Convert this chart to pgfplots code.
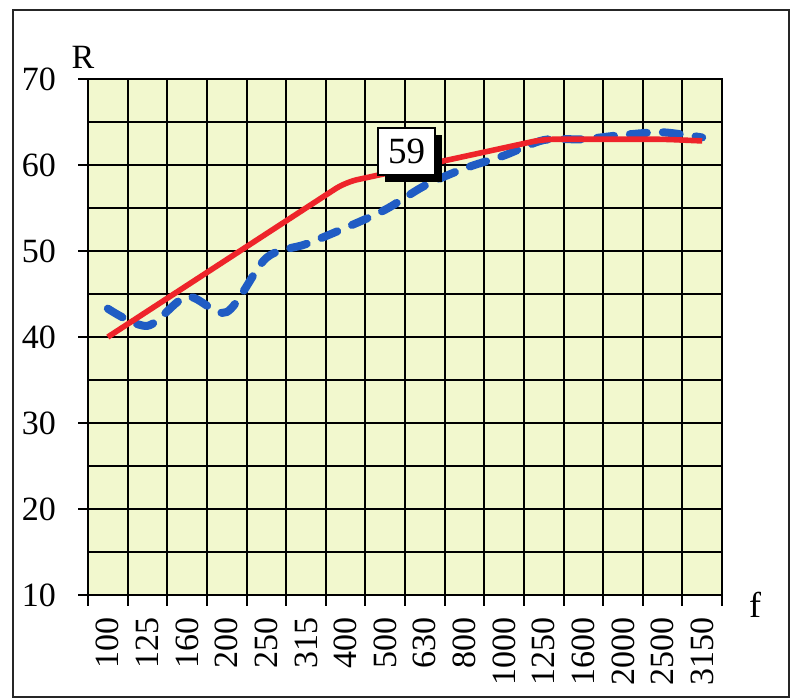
\documentclass[border=0pt]{standalone}
\usepackage{fontspec}
\setmainfont{Liberation Serif}
\usepackage{pgfplots}
\pgfplotsset{compat=1.18}
\usetikzlibrary{shadows}
\definecolor{bgyel}{RGB}{242,248,206}
\definecolor{curvered}{RGB}{238,36,42}
\definecolor{curveblue}{RGB}{32,92,196}

\begin{document}
\begin{tikzpicture}
% page box and scanned frame
\path (0,0) rectangle (395.5bp,-349bp);
\draw[line width=0.8bp, black!85] (6.5bp,-5bp) rectangle (394.5bp,-348.6bp);
\begin{axis}[
  at={(44bp,-297.5bp)}, anchor=south west,
  width=317bp, height=258bp, scale only axis,
  xmin=0, xmax=16, ymin=10, ymax=70,
  axis background/.style={fill=bgyel},
  clip=false,
  tick pos=left,
  xtick={0,1,...,16},
  xticklabels={},
  extra x ticks={0.5,1.5,...,15.5},
  extra x tick labels={100,125,160,200,250,315,400,500,630,800,1000,1250,1600,2000,2500,3150},
  extra x tick style={grid=none},
  ytick={10,20,...,70},
  minor ytick={15,25,...,65},
  grid=both,
  grid style={black, line width=1bp},
  minor grid style={black, line width=1bp},
  axis line style={black, line width=1.1bp},
  major tick length=0pt, minor tick length=0pt,
  /pgf/number format/assume math mode=true,
  yticklabel shift=12.5bp,
  xticklabel shift=7.5bp,
  yticklabel style={font=\fontsize{17bp}{20bp}\selectfont},
  xticklabel style={rotate=90, anchor=east, font=\fontsize{17bp}{18bp}\selectfont},
]
% outward tick marks
\pgfplotsinvokeforeach{0,1,...,16}{\draw[black, line width=1bp] (axis cs:#1,10) -- ([yshift=-5.5bp]axis cs:#1,10);}
\pgfplotsinvokeforeach{10,20,...,70}{\draw[black, line width=1bp] (axis cs:0,#1) -- ([xshift=-5bp]axis cs:0,#1);}
\addplot[curveblue, line width=4bp, line cap=round, dash pattern=on 8.5bp off 8bp, smooth, tension=0.5] coordinates {
  (0.5,43.3) (1.5,41.3) (2.5,44.7) (3.5,42.9) (4.5,49.2) (5.5,50.8)
  (6.5,52.7) (7.5,54.8) (8.5,57.6) (9.5,59.6) (10.5,61.1) (11.5,62.9)
  (12.5,63.0) (13.5,63.5) (14.5,63.8) (15.5,63.2)
};
\addplot[curvered, line width=2.8bp, rounded corners=6bp] coordinates {
  (0.5,40) (1.5,43) (2.5,46) (3.5,49) (4.5,52) (5.5,55)
  (6.5,58) (7.5,59) (8.5,60) (9.5,61) (10.5,62) (11.5,63)
  (12.5,63) (13.5,63) (14.5,63) (15.5,62.8)
};
\node[draw=black, line width=0.8bp, fill=white, minimum width=28.5bp, minimum height=23.5bp,
  inner sep=0pt, font=\fontsize{18.5bp}{20bp}\selectfont,
  drop shadow={opacity=1, fill=black, shadow xshift=3.5bp, shadow yshift=-3.5bp}]
  at (axis cs:8.04,61.57) {59};
\end{axis}
\node[font=\fontsize{17bp}{20bp}\selectfont] at (41.5bp,-28.5bp) {R};
\node[font=\fontsize{18bp}{20bp}\selectfont] at (377.5bp,-302.5bp) {f};
\end{tikzpicture}
\end{document}
